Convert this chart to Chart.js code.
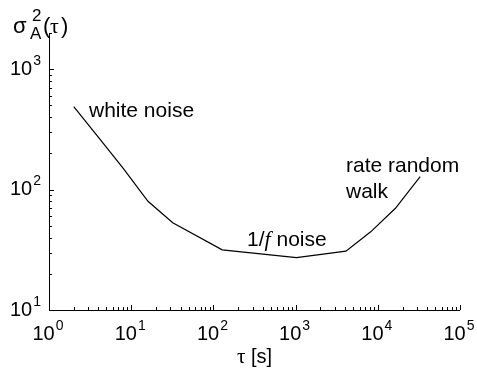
<!DOCTYPE html>
<html>
<head>
<meta charset="utf-8">
<script src="https://cdn.jsdelivr.net/npm/chart.js@4/dist/chart.umd.min.js"></script>
<style>
  body { margin: 0; background: #fff; }
  canvas { display: block; }
</style>
</head>
<body>
<canvas id="chart" width="477" height="377"></canvas>
<script>
// Allan variance vs averaging time
const tau = [2, 4, 8, 16, 32, 128, 1024, 4096, 8192, 16384, 32768];
const avar = [490, 272, 150, 80, 53, 31.6, 27.2, 30.8, 44.6, 70, 128];

const xDecades = [1, 10, 100, 1000, 10000, 100000];
const xExponents = ['0', '1', '2', '3', '4', '5'];
const yDecades = [10, 100, 1000];
const yExponents = ['1', '2', '3'];

const SANS = '"Liberation Sans", Arial, sans-serif';
const SERIF = '"Liberation Serif", "Times New Roman", serif';

function power(ctx, exp, x, y, align) {
    // draws "10" with a raised exponent, x is the anchor
    ctx.font = '20px ' + SANS;
    const wBase = ctx.measureText('10').width;
    ctx.font = '14px ' + SANS;
    const wExp = ctx.measureText(exp).width;
    const total = wBase + wExp + 1;
    let left = x;
    if (align === 'center') left = x - total / 2;
    if (align === 'right') left = x - total;
    ctx.textAlign = 'left';
    ctx.textBaseline = 'middle';
    ctx.font = '20px ' + SANS;
    ctx.fillText('10', left, y);
    ctx.font = '14px ' + SANS;
    ctx.fillText(exp, left + wBase + 1, y - 8);
}

const axesPlugin = {
    id: 'axes',
    afterDraw(chart) {
        const ctx = chart.ctx;
        const xs = chart.scales.x;
        const ys = chart.scales.y;
        const area = chart.chartArea;
        ctx.save();
        ctx.strokeStyle = '#000';
        ctx.fillStyle = '#000';
        ctx.lineWidth = 1;

        // axis lines
        ctx.beginPath();
        ctx.moveTo(area.left + 0.5, area.top);
        ctx.lineTo(area.left + 0.5, area.bottom + 0.5);
        ctx.lineTo(area.right, area.bottom + 0.5);
        ctx.stroke();

        // x ticks
        ctx.beginPath();
        for (let d = 1; d <= 100000; d *= 10) {
            for (let m = 1; m < 10; m++) {
                const v = d * m;
                if (v > 100000) break;
                const px = Math.round(xs.getPixelForValue(v)) + 0.5;
                const len = m === 1 ? 5 : 3;
                ctx.moveTo(px, area.bottom);
                ctx.lineTo(px, area.bottom - len);
            }
        }
        // y ticks
        for (let d = 10; d <= 1000; d *= 10) {
            for (let m = 1; m < 10; m++) {
                const v = d * m;
                if (v > 2000) break;
                const py = Math.round(ys.getPixelForValue(v)) + 0.5;
                const len = m === 1 ? 5 : 3;
                ctx.moveTo(area.left, py);
                ctx.lineTo(area.left + len, py);
            }
        }
        ctx.stroke();

        // tick labels
        xDecades.forEach((v, i) => {
            power(ctx, xExponents[i], xs.getPixelForValue(v) - 1, area.bottom + 24, 'center');
        });
        yDecades.forEach((v, i) => {
            power(ctx, yExponents[i], area.left - 8, ys.getPixelForValue(v), 'right');
        });

        // x title
        ctx.textBaseline = 'alphabetic';
        ctx.textAlign = 'left';
        ctx.font = '21px ' + SERIF;
        const wTau = ctx.measureText('\u03c4').width;
        ctx.font = '20px ' + SANS;
        const wRest = ctx.measureText(' [s]').width;
        let tx = (area.left + area.right) / 2 - (wTau + wRest) / 2;
        ctx.font = '21px ' + SERIF;
        ctx.fillText('\u03c4', tx, 363);
        ctx.font = '20px ' + SANS;
        ctx.fillText(' [s]', tx + wTau, 363);

        // y title: sigma_A^2(tau)
        ctx.font = '22px ' + SANS;
        ctx.fillText('\u03c3', 13, 33);
        ctx.font = '17px ' + SANS;
        ctx.fillText('2', 32, 21);
        ctx.fillText('A', 30, 39);
        ctx.font = '22px ' + SANS;
        ctx.fillText('(', 43, 33);
        ctx.font = '22px ' + SERIF;
        ctx.fillText('\u03c4', 50, 33);
        ctx.font = '22px ' + SANS;
        ctx.fillText(')', 61, 33);

        // annotations
        ctx.font = '21px ' + SANS;
        ctx.fillText('white noise', 89, 117);
        ctx.fillText('rate random', 346, 172);
        ctx.fillText('walk', 346, 198);
        ctx.fillText('1/', 247, 246);
        const w1 = ctx.measureText('1/').width;
        ctx.font = 'italic 22px ' + SERIF;
        ctx.fillText('f', 247 + w1, 246);
        const wf = ctx.measureText('f').width;
        ctx.font = '21px ' + SANS;
        ctx.fillText(' noise', 247 + w1 + wf, 246);

        ctx.restore();
    }
};

new Chart(document.querySelector('#chart').getContext('2d'), {
    type: 'line',
    data: {
        datasets: [{
            data: tau.map((t, i) => ({ x: t, y: avar[i] })),
            borderColor: '#000',
            borderWidth: 1.2,
            pointRadius: 0,
            tension: 0,
            fill: false
        }]
    },
    options: {
        responsive: false,
        animation: false,
        layout: { padding: { left: 49, right: 17, top: 33, bottom: 67 } },
        plugins: { legend: { display: false }, tooltip: { enabled: false } },
        scales: {
            x: { type: 'logarithmic', min: 1, max: 100000, display: false },
            y: { type: 'logarithmic', min: 10, max: 2000, display: false }
        }
    },
    plugins: [axesPlugin]
});
</script>
</body>
</html>
